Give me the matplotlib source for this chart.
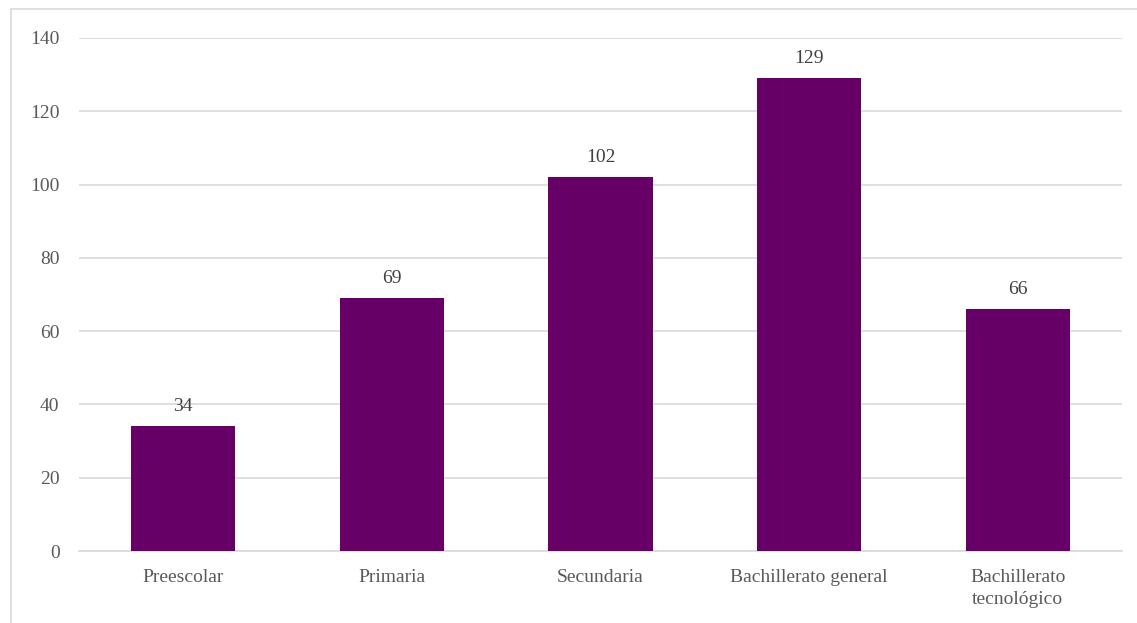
import matplotlib.pyplot as plt
from matplotlib.patches import Rectangle

# data
categories = ['Preescolar', 'Primaria', 'Secundaria', 'Bachillerato general',
              'Bachillerato\ntecnológico']
values = [34, 69, 102, 129, 66]
yticks = [0, 20, 40, 60, 80, 100, 120, 140]

plt.rcParams['font.family'] = ['Liberation Serif', 'DejaVu Serif']

W, H = 1137, 623
fig = plt.figure(figsize=(W / 100, H / 100), dpi=100)
ax = fig.add_axes([79 / W, 1 - 551 / H, (1122 - 79) / W, (551 - 38) / H])

x = range(len(categories))
bars = ax.bar(x, values, width=0.5, color='#660066', zorder=3)
for b, v in zip(bars, values):
    ax.text(b.get_x() + b.get_width() / 2, v + 3, str(v), ha='center', va='bottom',
            fontsize=14, color='#404040')

ax.set_xlim(-0.5, len(categories) - 0.5)
ax.set_ylim(0, 140)
ax.set_yticks(yticks)
ax.set_xticks(list(x))
ax.set_xticklabels(categories, linespacing=1.35)
ax.tick_params(axis='both', length=0, labelsize=14, colors='#595959')
ax.tick_params(axis='y', pad=14)
ax.tick_params(axis='x', pad=13)
ax.grid(axis='y', color='#d9d9d9', linewidth=1.2, zorder=0)
for s in ['top', 'right', 'left']:
    ax.spines[s].set_visible(False)
ax.spines['bottom'].set_color('#d9d9d9')
ax.spines['bottom'].set_linewidth(1.2)

# chart area border
fig.patches.append(Rectangle((11 / W, -0.1), 1.2, 0.1 + (623 - 9) / H, transform=fig.transFigure,
                             fill=False, edgecolor='#d9d9d9', linewidth=1.2))

fig.savefig('out.png', dpi=100)
